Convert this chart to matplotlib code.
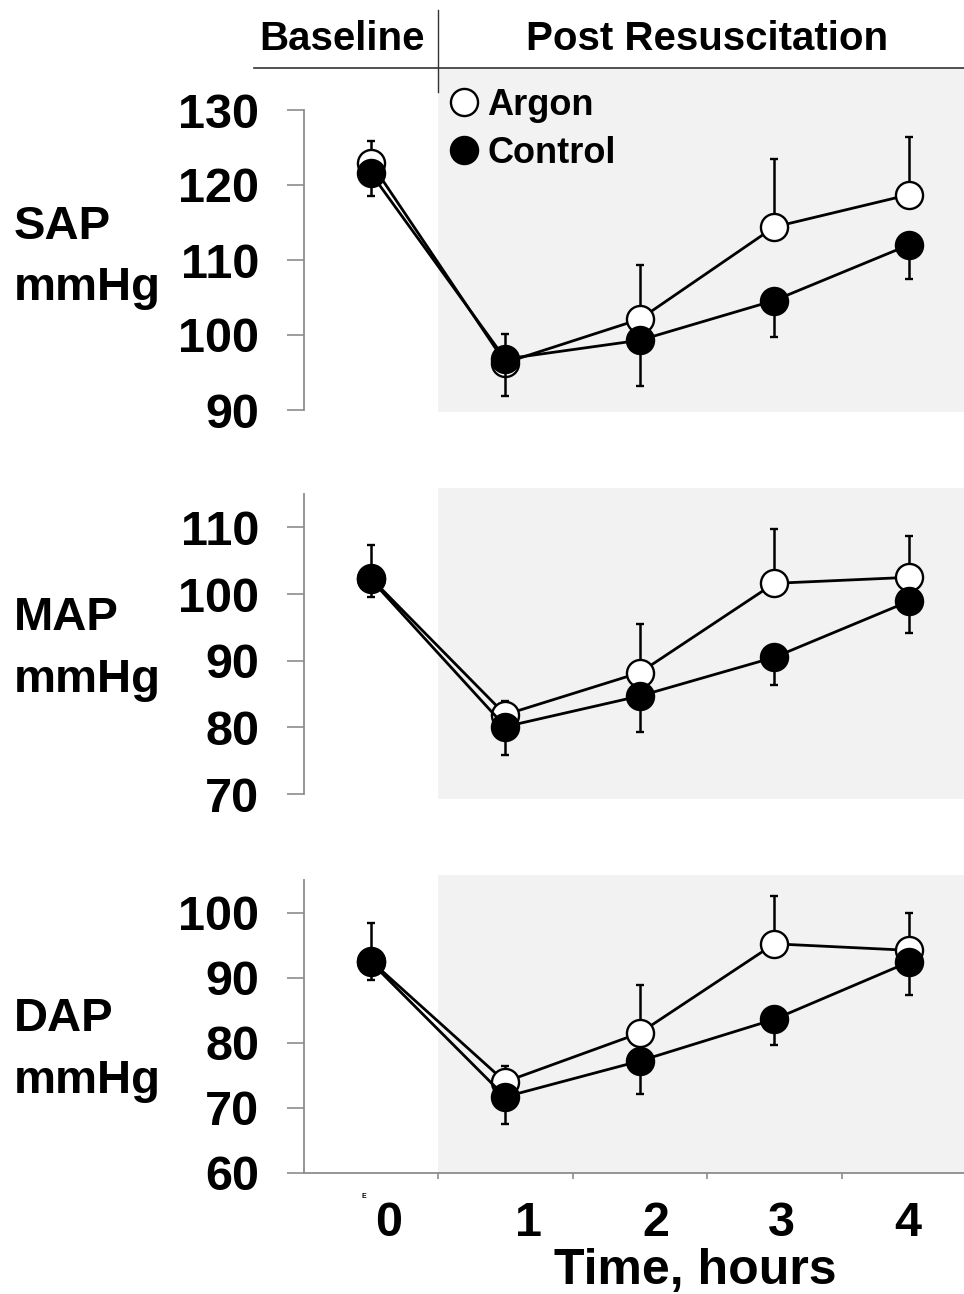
import numpy as np
import matplotlib
matplotlib.use("Agg")
import matplotlib.pyplot as plt
from matplotlib.lines import Line2D
import matplotlib.transforms as mtransforms

plt.rcParams['font.family'] = ['Liberation Sans', 'DejaVu Sans']
plt.rcParams['font.weight'] = 'bold'

# ---------------- data ----------------
time_labels = ['0', '1', '2', '3', '4']
time_idx = np.arange(len(time_labels))

sap_argon = [123.0, 96.3, 102.1, 114.4, 118.7]
sap_argon_err = [2.9, 3.8, 7.2, 9.1, 7.7]
sap_control = [121.6, 96.8, 99.3, 104.6, 112.0]
sap_control_err = [3.0, 4.9, 6.1, 4.8, 4.5]

map_argon = [102.4, 81.9, 88.2, 101.6, 102.5]
map_argon_err = [4.9, 2.1, 7.3, 8.1, 6.2]
map_control = [102.2, 80.1, 84.7, 90.5, 98.9]
map_control_err = [2.6, 4.2, 5.4, 4.1, 4.8]

dap_argon = [92.6, 74.0, 81.5, 95.2, 94.2]
dap_argon_err = [5.8, 2.4, 7.3, 7.4, 5.7]
dap_control = [92.4, 71.7, 77.2, 83.6, 92.4]
dap_control_err = [2.7, 4.1, 5.0, 4.0, 5.1]

panel_names = ['SAP', 'MAP', 'DAP']
panel_unit = 'mmHg'
series_names = ['Argon', 'Control']
phase_labels = ['Baseline', 'Post Resuscitation']
xlabel_text = 'Time, hours'

# ---------------- layout ----------------
W, H = 964, 1294
fig = plt.figure(figsize=(W / 100, H / 100), dpi=100)


def fx(x):
    return x / W


def fy(y):
    return 1 - y / H


ax_left = 303.5
ax_right = 976
panels = [
    dict(top=110, bottom=410, ylim=(90, 130), ticks=[90, 100, 110, 120, 130],
         shade=(412, 68), argon=sap_argon, aerr=sap_argon_err,
         control=sap_control, cerr=sap_control_err, lab_base=(239, 300)),
    dict(top=494, bottom=794, ylim=(70, 115), ticks=[70, 80, 90, 100, 110],
         shade=(799, 488), argon=map_argon, aerr=map_argon_err,
         control=map_control, cerr=map_control_err, lab_base=(630, 692)),
    dict(top=880, bottom=1173, ylim=(60, 105), ticks=[60, 70, 80, 90, 100],
         shade=(1173, 875), argon=dap_argon, aerr=dap_argon_err,
         control=dap_control, cerr=dap_control_err, lab_base=(1031, 1093)),
]

spine_gray = '#8c8c8c'
shade_col = '#f2f2f2'
tick_fs = 35
ms = 19.5
mew = 1.7
lw = 2.0

axes = []
for i, p in enumerate(panels):
    ax = fig.add_axes([fx(ax_left), fy(p['bottom']),
                       fx(ax_right) - fx(ax_left),
                       (p['bottom'] - p['top']) / H])
    ax.set_xlim(-0.5, len(time_labels) - 0.5)
    ax.set_ylim(*p['ylim'])
    ax.patch.set_alpha(0)
    for s in ['top', 'right']:
        ax.spines[s].set_visible(False)
    ax.spines['left'].set_color(spine_gray)
    ax.spines['left'].set_linewidth(1.3)
    ax.set_yticks(p['ticks'])
    ax.tick_params(axis='y', direction='out', length=12, width=1.2,
                   color=spine_gray, pad=20, labelsize=tick_fs)
    for lab in ax.get_yticklabels():
        lab.set_fontweight('bold')

    # shaded post-resuscitation region
    span_h = p['bottom'] - p['top']
    y0 = (p['bottom'] - p['shade'][0]) / span_h
    y1 = (p['bottom'] - p['shade'][1]) / span_h
    trans = mtransforms.blended_transform_factory(ax.transData, ax.transAxes)
    ax.add_patch(plt.Rectangle((0.5, y0), len(time_labels), y1 - y0,
                               transform=trans, facecolor=shade_col,
                               edgecolor='none', zorder=0, clip_on=False))

    zeros = np.zeros(len(time_labels))
    ax.errorbar(time_idx, p['argon'], yerr=[zeros, p['aerr']], fmt='o-',
                color='black', mfc='white', mec='black', ms=ms, mew=mew,
                lw=lw, elinewidth=1.8, capsize=3, capthick=1.8, zorder=3,
                label=series_names[0], clip_on=False)
    ax.errorbar(time_idx, p['control'], yerr=[p['cerr'], zeros], fmt='o-',
                color='black', mfc='black', mec='black', ms=ms, mew=mew,
                lw=lw, elinewidth=1.8, capsize=3, capthick=1.8, zorder=4,
                label=series_names[1], clip_on=False)

    if i < 2:
        ax.spines['bottom'].set_visible(False)
        ax.set_xticks([])
    else:
        ax.spines['bottom'].set_color(spine_gray)
        ax.spines['bottom'].set_linewidth(1.3)
        label_offsets = [0.13, 0.17, 0.12, 0.05, -0.01]
        ax.set_xticks(time_idx + np.array(label_offsets))
        ax.set_xticklabels(time_labels, fontsize=tick_fs, fontweight='bold')
        ax.tick_params(axis='x', which='major', length=0, pad=20)
        ax.set_xticks(np.arange(0.5, len(time_labels) - 0.5, 1), minor=True)
        ax.tick_params(axis='x', which='minor', direction='out', length=4,
                       width=1.2, color=spine_gray)

    # panel labels
    fig.text(fx(14), fy(p['lab_base'][0]), panel_names[i], fontsize=34,
             fontweight='bold', ha='left', va='baseline')
    fig.text(fx(14), fy(p['lab_base'][1]), panel_unit, fontsize=34,
             fontweight='bold', ha='left', va='baseline')
    axes.append(ax)

# legend
handles = [Line2D([], [], ls='none', marker='o', ms=ms, mfc='white',
                  mec='black', mew=mew),
           Line2D([], [], ls='none', marker='o', ms=ms, mfc='black',
                  mec='black', mew=mew)]
fig.legend(handles, series_names, loc='upper left',
           bbox_to_anchor=(fx(446), fy(88)), frameon=False,
           prop=dict(size=26, weight='bold'), handlelength=1.0,
           handletextpad=0.15, labelspacing=0.35, borderaxespad=0,
           borderpad=0, markerscale=1.0)

# header
fig.text(fx(342), fy(50), phase_labels[0], fontsize=29, fontweight='bold',
         ha='center', va='baseline')
fig.text(fx(707), fy(50), phase_labels[1], fontsize=29, fontweight='bold',
         ha='center', va='baseline')
fig.add_artist(Line2D([fx(254), 1], [fy(68), fy(68)], color='#333333',
                      lw=1.2))
fig.add_artist(Line2D([fx(438), fx(438)], [fy(10), fy(92)], color='#333333',
                      lw=1.0))

# tiny mark and x label
fig.text(fx(364), fy(1196), 'E', fontsize=5, ha='center', va='center')
fig.text(fx(695), fy(1284), xlabel_text, fontsize=36, fontweight='bold',
         ha='center', va='baseline')

fig.savefig('out.png', dpi=100)
